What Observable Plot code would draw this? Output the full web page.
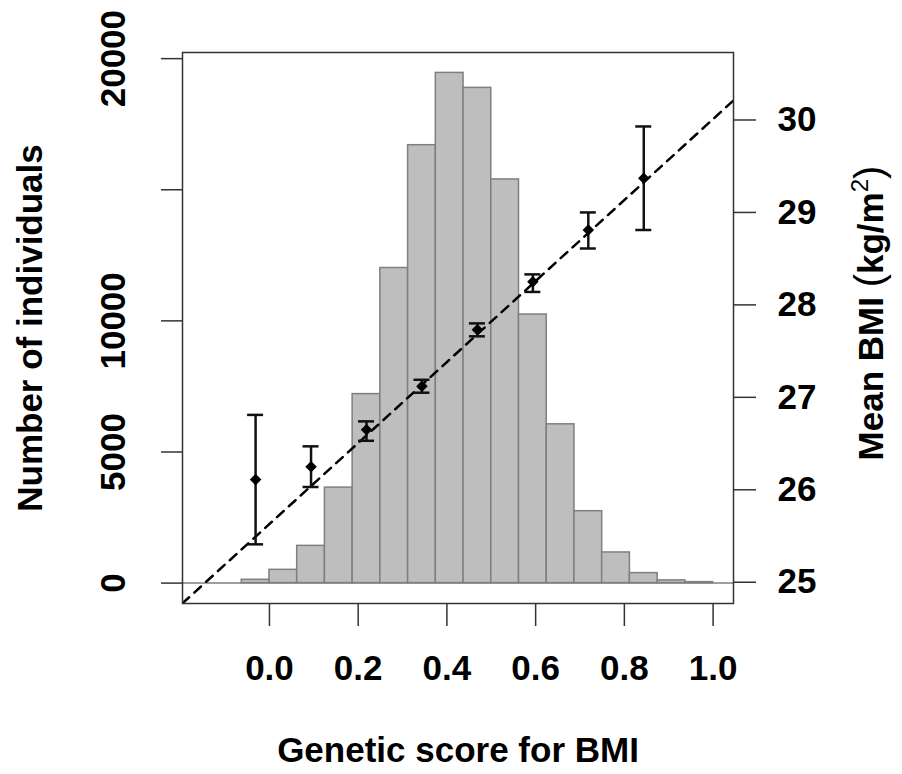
<!DOCTYPE html>
<html>
<head>
<meta charset="utf-8">
<script src="https://cdn.jsdelivr.net/npm/d3@7"></script>
<script src="https://cdn.jsdelivr.net/npm/@observablehq/plot@0.6"></script>
<style>
  html, body { margin: 0; padding: 0; background: #fff; }
  svg { display: block; }
</style>
</head>
<body>
<div id="chart"></div>
<script>
// ---- Histogram: number of individuals per genetic-score bin ----
const binEdges = [-0.0625, 0, 0.0625, 0.125, 0.1875, 0.25, 0.3125, 0.375, 0.4375, 0.5,
                  0.5625, 0.625, 0.6875, 0.75, 0.8125, 0.875, 0.9375, 1.0];
const binCounts = [126, 506, 1420, 3641, 7207, 12016, 16699, 19456, 18885, 15393,
                   10242, 6055, 2742, 1169, 381, 103, 38];

// ---- Mean BMI (kg/m2) by genetic-score group, with error bars ----
const scoreGroups = [-0.03125, 0.09375, 0.21875, 0.34375, 0.46875, 0.59375, 0.71875, 0.84375];
const bmiMean  = [26.11, 26.25, 26.65, 27.12, 27.73, 28.25, 28.81, 29.37];
const bmiLower = [25.41, 26.03, 26.53, 27.05, 27.66, 28.14, 28.61, 28.81];
const bmiUpper = [26.81, 26.47, 26.74, 27.19, 27.80, 28.33, 29.00, 29.93];

// ---- Fitted line (dashed) ----
const fitIntercept = 25.63;
const fitSlope = 4.38;

// ---- Axes ----
const xTicks = [0, 0.2, 0.4, 0.6, 0.8, 1.0];
const countTicks = [0, 5000, 10000, 15000, 20000];
const countTickLabels = ["0", "5000", "10000", "", "20000"];
const bmiTicks = [25, 26, 27, 28, 29, 30];

const xDomain = [-0.196, 1.046];
const countDomain = [-778, 20234];
const bmiDomain = [24.77, 30.73];

const xLabel = "Genetic score for BMI";
const yLeftLabel = "Number of individuals";

// map BMI values onto the shared vertical scale (count units)
const toCount = b => countDomain[0] +
  (b - bmiDomain[0]) / (bmiDomain[1] - bmiDomain[0]) * (countDomain[1] - countDomain[0]);

const bins = binCounts.map((c, i) => ({x1: binEdges[i], x2: binEdges[i + 1], count: c}));
const points = scoreGroups.map((x, i) => ({
  x, mean: toCount(bmiMean[i]), lo: toCount(bmiLower[i]), hi: toCount(bmiUpper[i])
}));
const fitLine = xDomain.map(x => ({x, y: toCount(fitIntercept + fitSlope * x)}));

const font = "'Liberation Sans', Arial, Helvetica, sans-serif";
const FS = 35;

const plot = Plot.plot({
  width: 902,
  height: 774,
  marginLeft: 182,
  marginRight: 169,
  marginTop: 52,
  marginBottom: 171,
  x: {domain: xDomain},
  y: {domain: countDomain},
  style: {fontFamily: font, fontWeight: "bold", background: "#fff", color: "#000"},
  marks: [
    Plot.rectY(bins, {x1: "x1", x2: "x2", y: "count", fill: "#bebebe", stroke: "#7f7f7f", strokeWidth: 1.5}),
    Plot.ruleY([0], {stroke: "#7f7f7f", strokeWidth: 1.5}),
    Plot.line(fitLine, {x: "x", y: "y", stroke: "#000", strokeWidth: 2.5, strokeDasharray: "9,7", clip: true}),
    Plot.ruleX(points, {x: "x", y1: "lo", y2: "hi", stroke: "#111", strokeWidth: 2.5}),
    Plot.ruleY(points, {x1: "x", x2: "x", y: "lo", insetLeft: -8, insetRight: -8, stroke: "#111", strokeWidth: 2.5}),
    Plot.ruleY(points, {x1: "x", x2: "x", y: "hi", insetLeft: -8, insetRight: -8, stroke: "#111", strokeWidth: 2.5}),
    Plot.dot(points, {x: "x", y: "mean", symbol: "square", rotate: 45, r: 4.6, fill: "#000", stroke: null}),
    Plot.frame({stroke: "#333", strokeWidth: 1.5}),
    // tick marks
    Plot.axisX({ticks: xTicks, anchor: "bottom", tickSize: 23, tickFormat: () => "", label: null, stroke: "#333", strokeWidth: 1.5}),
    Plot.axisY({ticks: countTicks, anchor: "left", tickSize: 21, tickFormat: () => "", label: null, stroke: "#333", strokeWidth: 1.5}),
    Plot.axisY({ticks: bmiTicks.map(toCount), anchor: "right", tickSize: 22, tickFormat: () => "", label: null, stroke: "#333", strokeWidth: 1.5}),
    // tick labels
    Plot.text(xTicks, {x: d => d, text: d => d.toFixed(1), frameAnchor: "bottom", dy: 65,
      lineAnchor: "middle", fontSize: FS, fontWeight: "bold", fill: "#000"}),
    Plot.text(countTicks, {y: d => d, text: (d, i) => countTickLabels[i], frameAnchor: "left", dx: -69,
      rotate: -90, textAnchor: "middle", lineAnchor: "middle", fontSize: FS, fontWeight: "bold", fill: "#000"}),
    Plot.text(bmiTicks, {y: d => toCount(d), text: d => String(d), frameAnchor: "right", dx: 44,
      textAnchor: "start", lineAnchor: "middle", fontSize: FS, fontWeight: "bold", fill: "#000"}),
    // axis titles
    Plot.text([xLabel], {text: d => d, frameAnchor: "bottom", dy: 147, lineAnchor: "middle",
      fontSize: FS, fontWeight: "bold", fill: "#000"}),
    Plot.text([yLeftLabel], {text: d => d, frameAnchor: "left", dx: -152, rotate: -90,
      textAnchor: "middle", lineAnchor: "middle", fontSize: FS, fontWeight: "bold", fill: "#000"})
  ]
});

document.getElementById("chart").appendChild(plot);

// Right-hand axis title with superscript
const svg = d3.select(plot);
const t = svg.append("text")
  .attr("transform", "translate(870,313) rotate(-90)")
  .attr("text-anchor", "middle")
  .attr("dy", "0.36em")
  .style("font-family", font)
  .style("font-size", FS + "px")
  .attr("fill", "#000");
t.append("tspan").attr("font-weight", "bold").text("Mean BMI ");
t.append("tspan").attr("font-weight", "normal").attr("font-size", "40px").text("(");
t.append("tspan").attr("font-weight", "bold").text("kg/m");
t.append("tspan").attr("font-weight", "normal").attr("font-size", "24px").attr("dy", "-15").text("2");
t.append("tspan").attr("font-weight", "normal").attr("font-size", "40px").attr("dy", "15").text(")");
</script>
</body>
</html>
